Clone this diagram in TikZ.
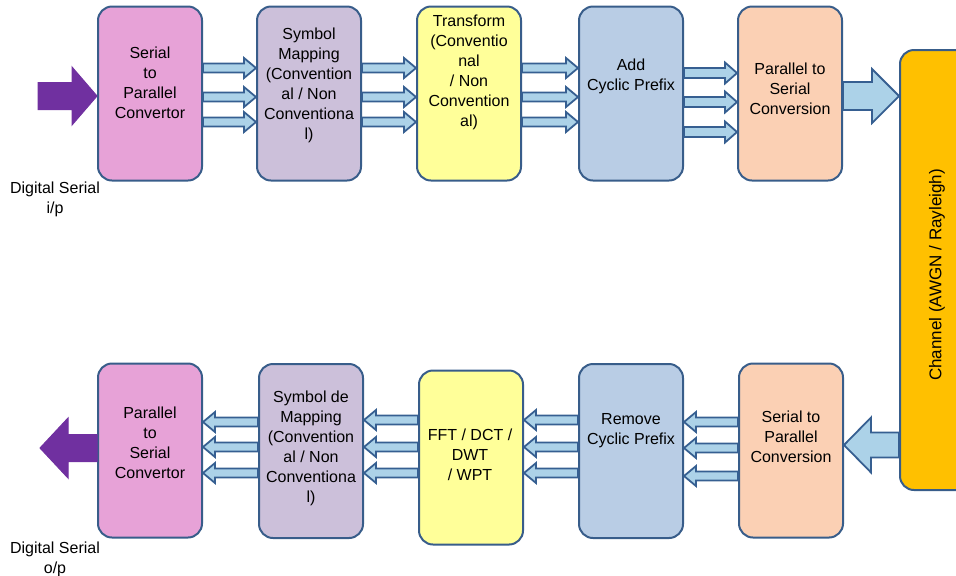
\documentclass[tikz,border=0pt]{standalone}
\usepackage{fontspec}
\setmainfont{Liberation Sans}
\usetikzlibrary{calc,positioning}
\definecolor{boxline}{RGB}{56,93,138}
\definecolor{spink}{RGB}{231,162,215}
\definecolor{slav}{RGB}{204,192,218}
\definecolor{syel}{RGB}{255,255,153}
\definecolor{sblue}{RGB}{185,205,229}
\definecolor{speach}{RGB}{251,208,180}
\definecolor{schan}{RGB}{255,192,0}
\definecolor{arrfill}{RGB}{172,210,232}
\definecolor{arrline}{RGB}{54,95,145}
\definecolor{spurple}{RGB}{112,48,160}
\tikzset{
    blk/.style={draw=boxline, line width=1pt, rounded corners=7pt, minimum width=52pt, minimum height=87pt, inner sep=0pt},
    lbl/.style={align=center, font=\fontsize{8}{10}\selectfont, inner sep=0pt},
    barr/.style={draw=arrline, fill=arrfill, line width=0.9pt},
    parr/.style={draw=spurple, fill=spurple, line width=0.5pt}
}
% block arrow: [style] {from} {to} {y} {shaft half} {head half} {head length}
\newcommand{\blockarrow}[7][barr]{%
    \coordinate (ba-s) at (#2 |- 0,#4);
    \coordinate (ba-e) at (#3 |- 0,#4);
    \draw[#1] let \p1=(ba-s), \p2=(ba-e), \p3=($(ba-e)!#7!(ba-s)$) in
        (\x1,\y1+#5) -- (\x3,\y1+#5) -- (\x3,\y1+#6) -- (\x2,\y1)
        -- (\x3,\y1-#6) -- (\x3,\y1-#5) -- (\x1,\y1-#5) -- cycle;}

\begin{document}
\begin{tikzpicture}[x=0.5pt, y=-0.5pt]
\useasboundingbox (0,0) rectangle (956,575);

% transmitter
\node[blk, fill=spink] (sp) at (150,93.5) {};
\node[blk, fill=slav] (sm) at (309,93.5) {};
\node[blk, fill=syel] (tf) at (469,93.5) {};
\node[blk, fill=sblue] (acp) at (631,93.5) {};
\node[blk, fill=speach] (ps) at (790,93.5) {};

\node[lbl] (sp-t) at (150,83) {Serial\\to\\Parallel\\Convertor};
\node[lbl] (sm-t) at (309,85) {Symbol\\Mapping\\(Convention\\al / Non\\Conventiona\\l)};
\node[lbl] (tf-t) at (469,72) {Transform\\(Conventio\\nal\\/ Non\\Convention\\al)};
\node[lbl] (acp-t) at (631,76) {Add\\Cyclic Prefix};
\node[lbl] (ps-t) at (790,89) {Parallel to\\Serial\\Conversion};

% channel
\node[blk, fill=schan, minimum width=40pt, minimum height=220pt] (ch) at (940,270) {};
\node[lbl, rotate=90, font=\fontsize{8.5}{10}\selectfont] (ch-t) at (937,275) {Channel (AWGN / Rayleigh)};

% receiver
\node[blk, fill=spink] (pso) at (150,450.5) {};
\node[blk, fill=slav] (sdm) at (311,451) {};
\node[blk, fill=syel] (fft) at (471,457.5) {};
\node[blk, fill=sblue] (rcp) at (631,451) {};
\node[blk, fill=speach] (spc) at (791,450.5) {};

\node[lbl] (pso-t) at (150,443) {Parallel\\to\\Serial\\Convertor};
\node[lbl] (sdm-t) at (311,448) {Symbol de\\Mapping\\(Convention\\al / Non\\Conventiona\\l)};
\node[lbl] (fft-t) at (470,455) {FFT / DCT /\\DWT\\/ WPT};
\node[lbl] (rcp-t) at (631,431) {Remove\\Cyclic Prefix};
\node[lbl] (spc-t) at (791,437) {Serial to\\Parallel\\Conversion};

\node[lbl] (in-t) at (55,199) {Digital Serial\\i/p};
\node[lbl] (out-t) at (55,559) {Digital Serial\\o/p};

% arrows
\coordinate (in) at (38,96);
\coordinate (out) at (40,448);
\blockarrow[parr]{in}{sp.west}{96}{6.75pt}{14.5pt}{12.5pt}
\foreach \y in {68,97,122} {\blockarrow{sp.east}{sm.west}{\y}{2.25pt}{5pt}{6pt}}
\foreach \y in {68,97,122} {\blockarrow{sm.east}{tf.west}{\y}{2.25pt}{5pt}{6pt}}
\foreach \y in {68,97,122} {\blockarrow{tf.east}{acp.west}{\y}{2.25pt}{5pt}{6pt}}
\foreach \y in {73,102,132} {\blockarrow{acp.east}{ps.west}{\y}{2.5pt}{5.25pt}{6pt}}
\blockarrow{ps.east}{ch.west}{96}{7pt}{13.5pt}{13.5pt}
\blockarrow{ch.west}{spc.east}{445}{6.25pt}{13.75pt}{13.5pt}
\foreach \y in {422,448,476} {\blockarrow{spc.west}{rcp.east}{\y}{2.25pt}{5pt}{6pt}}
\foreach \y in {420,447,473} {\blockarrow{rcp.west}{fft.east}{\y}{2.25pt}{5pt}{6pt}}
\foreach \y in {420,447,473} {\blockarrow{fft.west}{sdm.east}{\y}{2.25pt}{5pt}{6pt}}
\foreach \y in {422,447,473} {\blockarrow{sdm.west}{pso.east}{\y}{2.25pt}{5pt}{6pt}}
\blockarrow[parr]{pso.west}{out}{448}{6.75pt}{15pt}{14pt}
\end{tikzpicture}
\end{document}
